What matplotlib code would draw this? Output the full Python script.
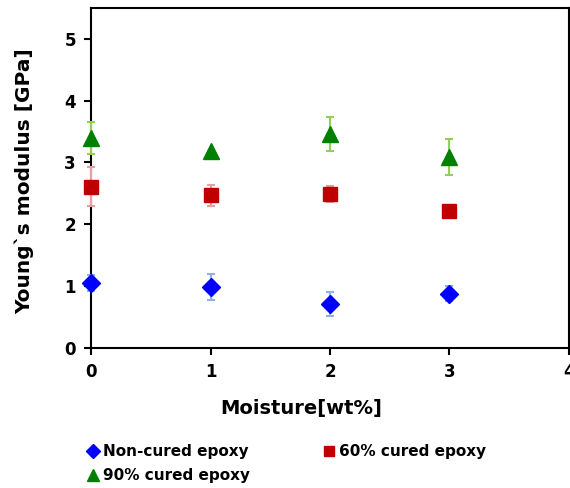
import matplotlib.pyplot as plt
import numpy as np

moisture = [0, 1, 2, 3]

non_cured = [1.05, 0.99, 0.71, 0.88]
non_cured_err = [0.13, 0.21, 0.20, 0.12]

cured60 = [2.61, 2.47, 2.49, 2.21]
cured60_err = [0.31, 0.17, 0.13, 0.0]

cured90 = [3.39, 3.19, 3.46, 3.09]
cured90_err = [0.26, 0.0, 0.27, 0.29]

plt.rcParams['font.family'] = ['DejaVu Sans']
plt.rcParams['font.weight'] = 'bold'

fig, ax = plt.subplots(figsize=(5.7, 4.88), dpi=100)
fig.subplots_adjust(left=0.16, right=0.998, top=0.984, bottom=0.287)

series = [
    (non_cured, non_cured_err, 'D', '#0000FF', '#8EB4E3', 9, 'Non-cured epoxy'),
    (cured60, cured60_err, 's', '#C00000', '#E6A0A0', 10, '60% cured epoxy'),
    (cured90, cured90_err, '^', '#008000', '#92D050', 11, '90% cured epoxy'),
]
handles = []
for vals, errs, mk, col, ecol, ms, lab in series:
    eb = ax.errorbar(moisture, vals, yerr=errs, fmt=mk, color=col, ms=ms,
                     ecolor=ecol, elinewidth=1.5, capsize=3, capthick=1.5,
                     mec=col, label=lab, zorder=3)
    for art in eb.get_children():
        art.set_clip_on(False)
    handles.append(eb[0])

ax.set_xlim(0, 4)
ax.set_ylim(0, 5.5)
ax.set_xticks([0, 1, 2, 3, 4])
ax.set_yticks([0, 1, 2, 3, 4, 5])
ax.tick_params(direction='out', length=5, width=1.5, labelsize=12, pad=6)
for lab in ax.get_xticklabels() + ax.get_yticklabels():
    lab.set_fontweight('bold')
for sp in ax.spines.values():
    sp.set_linewidth(1.5)

ax.set_xlabel('Moisture[wt%]', fontsize=14, fontweight='bold')
ax.xaxis.set_label_coords(0.44, -0.15)
ax.set_ylabel('Young`s modulus [GPa]', fontsize=14.5, fontweight='bold')
ax.yaxis.set_label_coords(-0.12, 0.49)

# column-major order so the first row reads Non-cured / 60%
order = [0, 2, 1]
fig.legend([handles[i] for i in order], [series[i][6] for i in order],
           loc='upper left', bbox_to_anchor=(0.125, 0.118),
           ncol=2, frameon=False, handletextpad=0.15,
           handlelength=1.0, columnspacing=4.7, labelspacing=0.6,
           markerscale=0.75, prop={'weight': 'bold', 'size': 11})

fig.savefig('out.png')
